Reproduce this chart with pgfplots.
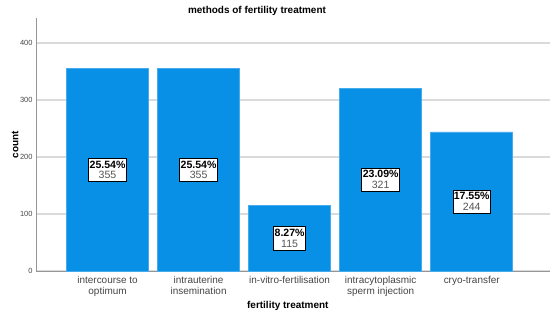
\documentclass[border=0pt]{standalone}
\usepackage{pgfplots}
\usepackage{pgfplotstable}
\pgfplotsset{compat=1.18}
\usepackage{fontspec}
\setmainfont{Liberation Sans}
\definecolor{barblue}{RGB}{8,143,230}
\definecolor{gridgray}{RGB}{218,218,218}
\definecolor{axgray}{RGB}{150,150,150}
\definecolor{ticktxt}{RGB}{70,70,70}
\definecolor{cnttxt}{RGB}{85,85,85}
\pgfplotstableread{
x count half pct
0 355 177.5 25.54
1 355 177.5 25.54
2 115 57.5 8.27
3 321 160.5 23.09
4 244 122 17.55
}\data
\begin{document}
\begin{tikzpicture}[x=1bp,y=1bp]
\path[use as bounding box] (-36bp,-53bp) rectangle (514bp,271bp);
\begin{axis}[
  scale only axis, width=514bp, height=253bp,
  xmin=-0.786, xmax=4.86, ymin=0, ymax=444,
  axis lines*=left,
  axis line style={axgray, line width=1pt},
  ytick={0,100,200,300,400},
  xtick={0,1,2,3,4},
  xticklabels={{intercourse to\\optimum},{intrauterine\\insemination},{in-vitro-fertilisation},{intracytoplasmic\\sperm injection},{cryo-transfer}},
  xticklabel style={align=center, font=\fontsize{10}{10.7}\selectfont, text=ticktxt, anchor=north, yshift=-2bp},
  yticklabel style={font=\fontsize{7.5}{8}\selectfont, text=ticktxt},
  /pgf/number format/assume math mode=true,
  major tick length=0pt,
  ymajorgrids, grid style={gridgray, line width=1.2pt},
  xlabel={\bfseries fertility treatment},
  ylabel={\bfseries count},
  label style={font=\fontsize{10}{12}\selectfont},
  xlabel style={at={(axis description cs:0.49,0)}, anchor=north, yshift=-27bp},
  ylabel style={at={(axis description cs:0,0.5)}, anchor=south, xshift=0bp, yshift=14bp},
  clip=false,
]
\addplot[ybar, bar width=82bp, fill=barblue, draw=barblue!75!white, line width=0.6pt] table[x=x,y=count]{\data};
\addplot[only marks, mark=none,
  point meta=explicit symbolic,
  visualization depends on={\thisrow{count} \as \cnt},
  nodes near coords={\textbf{\pgfplotspointmeta\%}\\{\color{cnttxt}\pgfmathprintnumber[fixed,precision=0]{\cnt}}},
  every node near coord/.style={anchor=center, align=center, fill=white, draw=black, line width=0.6pt, inner xsep=1bp, inner ysep=2.5bp, font=\fontsize{10.6}{10.8}\selectfont, text=black},
] table[x=x,y=half,meta=pct]{\data};
\end{axis}
\node[font=\bfseries\fontsize{10}{12}\selectfont] at (221bp,260bp) {methods of fertility treatment};
\end{tikzpicture}
\end{document}
